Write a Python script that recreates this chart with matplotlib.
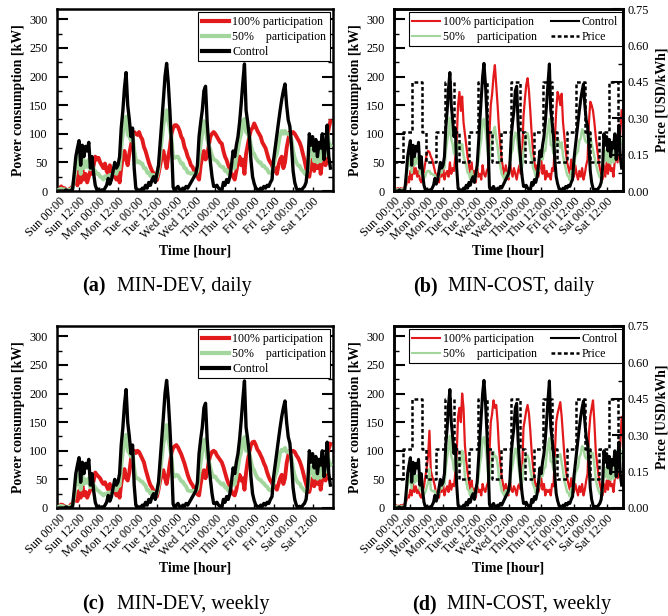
import numpy as np
import matplotlib
matplotlib.use("Agg")
import matplotlib.pyplot as plt
from matplotlib.lines import Line2D
from matplotlib.ticker import MultipleLocator

plt.rcParams['font.family'] = ['Liberation Serif', 'DejaVu Serif']

# ---------------- data (hourly, one week starting Sunday 00:00) ----------------
hours = np.arange(168)
tick_hours = [0, 12, 24, 36, 48, 60, 72, 84, 96, 108, 120, 132, 144, 156]
tick_labels = ["Sun 00:00", "Sun 12:00", "Mon 00:00", "Mon 12:00", "Tue 00:00",
               "Tue 12:00", "Wed 00:00", "Wed 12:00", "Thu 00:00", "Thu 12:00",
               "Fri 00:00", "Fri 12:00", "Sat 00:00", "Sat 12:00"]

control_kw = [
    0, 0, 0, 0, 2, 0, 0, 1, 3, 30, 60, 75, 88, 45, 80, 60, 78, 70, 85, 40, 60, 30, 10, 2,
    3, 0, 2, 0, 5, 10, 22, 12, 20, 35, 50, 40, 45, 60, 110, 140, 180, 207, 150, 125, 95, 110, 40, 5,
    0, 2, 0, 5, 3, 10, 5, 15, 10, 20, 25, 15, 30, 45, 83, 120, 159, 200, 223, 190, 141, 83, 7, 0,
    5, 8, 3, 0, 5, 3, 8, 5, 10, 15, 20, 25, 30, 45, 95, 120, 141, 175, 183, 120, 80, 50, 25, 8,
    8, 10, 5, 3, 0, 15, 10, 20, 15, 25, 45, 70, 60, 80, 95, 120, 153, 190, 222, 141, 120, 95, 54, 25,
    13, 5, 3, 0, 5, 3, 8, 5, 10, 8, 15, 20, 55, 77, 100, 120, 141, 160, 175, 187, 150, 124, 113, 80,
    35, 15, 5, 0, 3, 0, 5, 8, 15, 40, 100, 80, 95, 70, 90, 60, 85, 75, 100, 55, 80, 115, 60, 40]

dev_daily_100 = [
    5, 8, 3, 5, 2, 0, 3, 5, 8, 15, 25, 10, 35, 15, 40, 20, 30, 15, 25, 35, 30, 45, 60, 55,
    58, 50, 45, 40, 48, 35, 30, 45, 35, 25, 30, 20, 35, 15, 40, 60, 70, 55, 45, 65, 80, 95, 103, 100,
    98, 103, 95, 90, 77, 70, 60, 50, 42, 35, 31, 25, 19, 30, 45, 60, 70, 55, 40, 60, 75, 100, 110, 115,
    115, 112, 105, 95, 90, 77, 70, 60, 54, 45, 42, 35, 30, 25, 20, 45, 60, 70, 55, 60, 80, 95, 100, 103,
    100, 95, 90, 85, 83, 70, 60, 54, 45, 37, 31, 25, 20, 35, 50, 60, 45, 55, 30, 65, 80, 95, 107, 110,
    118, 112, 105, 100, 95, 85, 80, 75, 65, 55, 50, 45, 35, 40, 30, 45, 55, 60, 40, 50, 75, 90, 103, 100,
    103, 100, 95, 90, 85, 77, 65, 54, 40, 31, 25, 45, 55, 35, 70, 40, 60, 30, 55, 75, 45, 95, 110, 122]

dev_daily_50 = [
    3, 4, 2, 3, 2, 0, 2, 3, 5, 22, 42, 40, 60, 30, 58, 40, 52, 42, 55, 38, 45, 38, 35, 30,
    30, 25, 24, 20, 26, 22, 26, 28, 28, 30, 40, 30, 40, 38, 75, 100, 125, 130, 98, 95, 88, 100, 72, 55,
    50, 52, 48, 48, 40, 40, 32, 32, 26, 28, 28, 20, 25, 38, 64, 90, 115, 128, 141, 125, 108, 92, 58, 58,
    60, 60, 54, 48, 48, 40, 39, 32, 32, 30, 31, 30, 30, 35, 58, 82, 100, 122, 120, 90, 80, 72, 62, 55,
    54, 52, 48, 44, 42, 42, 35, 37, 30, 31, 38, 48, 40, 58, 72, 90, 100, 122, 126, 103, 100, 95, 80, 68,
    65, 58, 54, 50, 50, 44, 44, 40, 38, 32, 32, 32, 45, 58, 65, 82, 98, 105, 100, 105, 100, 100, 100, 90,
    70, 58, 50, 45, 44, 38, 35, 31, 28, 36, 62, 62, 75, 52, 80, 50, 72, 52, 78, 65, 62, 105, 85, 80]

cost_daily_100 = [
    5, 5, 3, 5, 3, 5, 3, 5, 8, 10, 25, 15, 35, 20, 45, 30, 40, 25, 35, 20, 15, 25, 35, 50,
    65, 70, 68, 60, 55, 45, 35, 20, 30, 15, 40, 25, 45, 20, 30, 35, 25, 50, 30, 40, 35, 60, 90, 150,
    173, 140, 165, 120, 100, 80, 60, 45, 30, 50, 20, 35, 15, 40, 25, 30, 20, 45, 30, 25, 35, 40, 100, 150,
    170, 200, 220, 185, 150, 110, 80, 55, 40, 25, 45, 30, 20, 50, 35, 25, 40, 30, 20, 35, 45, 30, 60, 130,
    160, 185, 197, 175, 140, 100, 70, 50, 35, 45, 25, 40, 55, 30, 45, 20, 35, 25, 30, 20, 40, 35, 90, 140,
    173, 165, 150, 170, 120, 95, 70, 50, 40, 30, 55, 35, 25, 45, 30, 20, 35, 25, 40, 20, 30, 45, 55, 120,
    156, 150, 140, 120, 95, 75, 55, 40, 30, 20, 45, 25, 50, 30, 60, 35, 40, 25, 55, 70, 50, 80, 100, 141]

cost_daily_50 = [
    3, 3, 2, 3, 3, 3, 2, 3, 5, 20, 42, 45, 60, 32, 62, 45, 58, 48, 60, 30, 38, 28, 22, 26,
    34, 35, 35, 30, 30, 28, 28, 16, 25, 25, 45, 32, 45, 40, 70, 88, 102, 128, 90, 82, 65, 85, 65, 78,
    86, 71, 82, 62, 52, 45, 32, 30, 20, 35, 22, 25, 22, 42, 54, 75, 90, 122, 126, 108, 88, 62, 54, 75,
    88, 104, 112, 92, 78, 56, 44, 30, 25, 20, 32, 28, 25, 48, 65, 72, 90, 102, 100, 78, 62, 40, 42, 69,
    84, 98, 101, 89, 70, 58, 40, 35, 25, 35, 35, 55, 58, 55, 70, 70, 94, 108, 126, 80, 80, 65, 72, 82,
    93, 85, 76, 85, 62, 49, 39, 28, 25, 19, 35, 28, 40, 61, 65, 70, 88, 92, 108, 104, 90, 85, 84, 100,
    95, 82, 72, 60, 49, 38, 30, 24, 22, 30, 72, 52, 72, 50, 75, 48, 62, 50, 78, 62, 65, 98, 80, 90]

dev_weekly_100 = [
    4, 6, 5, 3, 2, 0, 2, 6, 8, 12, 28, 12, 30, 18, 42, 22, 28, 18, 25, 32, 35, 48, 62, 58,
    55, 52, 46, 42, 45, 38, 32, 42, 30, 28, 32, 22, 30, 18, 42, 58, 68, 52, 48, 62, 85, 98, 100, 96,
    100, 98, 92, 86, 80, 68, 58, 48, 40, 36, 30, 22, 20, 32, 48, 58, 66, 52, 42, 58, 78, 96, 105, 108,
    110, 106, 100, 94, 86, 78, 68, 58, 50, 44, 40, 34, 28, 24, 22, 42, 58, 66, 52, 62, 82, 92, 98, 100,
    98, 92, 88, 84, 80, 72, 62, 52, 44, 38, 30, 24, 22, 32, 48, 58, 48, 52, 32, 62, 82, 98, 110, 115,
    116, 110, 102, 98, 92, 86, 78, 72, 62, 54, 48, 44, 36, 38, 32, 42, 52, 58, 42, 52, 78, 92, 100, 98,
    100, 98, 92, 88, 82, 74, 64, 52, 42, 32, 28, 42, 52, 38, 68, 42, 58, 32, 52, 72, 48, 92, 104, 112]

dev_weekly_50 = [
    3, 4, 3, 2, 2, 0, 2, 3, 5, 20, 40, 42, 58, 32, 56, 42, 50, 44, 52, 36, 46, 40, 36, 32,
    30, 27, 25, 22, 25, 24, 27, 27, 26, 31, 40, 31, 38, 39, 72, 98, 122, 128, 100, 96, 90, 98, 70, 52,
    52, 50, 47, 46, 42, 39, 31, 31, 25, 28, 27, 20, 26, 38, 62, 88, 112, 126, 145, 122, 105, 90, 56, 55,
    58, 57, 52, 47, 46, 41, 38, 31, 30, 29, 30, 30, 29, 34, 56, 80, 98, 118, 120, 88, 82, 70, 60, 54,
    55, 50, 47, 44, 41, 43, 36, 36, 30, 32, 37, 46, 41, 56, 70, 88, 98, 118, 124, 100, 100, 96, 82, 70,
    66, 58, 53, 50, 49, 45, 43, 39, 37, 32, 31, 32, 44, 56, 64, 80, 96, 102, 100, 105, 98, 98, 98, 88,
    68, 57, 49, 44, 43, 37, 34, 30, 28, 35, 60, 60, 73, 53, 78, 51, 70, 53, 76, 64, 63, 100, 82, 76]

cost_weekly_100 = [
    4, 6, 3, 4, 3, 5, 4, 6, 7, 12, 22, 18, 32, 22, 42, 28, 38, 26, 32, 22, 18, 28, 38, 55,
    70, 90, 135, 65, 55, 48, 38, 22, 28, 18, 38, 28, 42, 22, 32, 38, 28, 48, 32, 42, 38, 62, 95, 160,
    175, 150, 200, 175, 110, 82, 62, 45, 32, 48, 22, 34, 18, 38, 28, 32, 22, 42, 32, 28, 38, 45, 95, 150,
    165, 188, 175, 180, 150, 105, 78, 55, 42, 28, 42, 32, 22, 48, 32, 28, 38, 32, 22, 38, 42, 32, 65, 140,
    155, 170, 180, 165, 135, 98, 72, 52, 38, 42, 28, 38, 52, 32, 42, 22, 32, 28, 32, 22, 42, 38, 95, 150,
    165, 175, 185, 160, 125, 92, 68, 52, 42, 32, 52, 38, 28, 42, 32, 22, 38, 28, 42, 22, 32, 48, 60, 130,
    160, 175, 188, 150, 100, 78, 58, 42, 32, 22, 42, 28, 48, 32, 58, 38, 42, 28, 52, 68, 52, 85, 110, 159]

cost_weekly_50 = [
    2, 3, 3, 2, 3, 3, 2, 3, 5, 21, 40, 46, 58, 34, 60, 44, 57, 47, 58, 31, 39, 29, 24, 28,
    36, 45, 68, 32, 30, 29, 30, 17, 24, 26, 44, 34, 44, 41, 71, 89, 104, 126, 91, 84, 66, 86, 68, 82,
    88, 76, 100, 90, 56, 46, 33, 30, 21, 34, 23, 24, 24, 41, 55, 76, 90, 120, 124, 110, 90, 64, 51, 75,
    85, 98, 89, 90, 77, 54, 43, 30, 26, 21, 31, 28, 26, 46, 63, 74, 89, 104, 102, 80, 61, 41, 45, 74,
    81, 90, 92, 84, 67, 56, 41, 36, 26, 33, 36, 54, 56, 56, 68, 71, 92, 109, 122, 81, 81, 66, 74, 87,
    89, 90, 94, 80, 65, 47, 38, 28, 26, 20, 34, 29, 41, 60, 66, 71, 89, 94, 108, 104, 91, 86, 86, 105,
    97, 95, 96, 75, 51, 39, 31, 25, 23, 31, 71, 54, 71, 51, 74, 49, 63, 51, 76, 61, 66, 100, 85, 99]

# time-of-use price: hour of day where a level starts, and the level (USD/kWh)
price_change_hours = [0, 6.75, 13.5, 20.25, 23.75]
price_levels = [0.12, 0.245, 0.45, 0.245, 0.12]

captions = [("(a)", "MIN-DEV, daily"), ("(b)", "MIN-COST, daily"),
            ("(c)", "MIN-DEV, weekly"), ("(d)", "MIN-COST, weekly")]

# ---------------- styling ----------------
RED = '#e31a1c'
GREEN = '#a3d69d'
W, H = 668, 616
PRICE_DASH = (1.5, 1.0)

fig = plt.figure(figsize=(W / 100, H / 100), dpi=100)


def px_axes(left, top, right, bottom):
    return fig.add_axes([left / W, 1 - bottom / H, (right - left) / W, (bottom - top) / H])


def style_left(ax, mirror):
    ax.set_ylim(0, 318)
    ax.yaxis.set_major_locator(MultipleLocator(50))
    ax.yaxis.set_minor_locator(MultipleLocator(25))
    ax.set_xticks(tick_hours)
    ax.set_xticklabels(tick_labels, rotation=45, ha='right', rotation_mode='anchor')
    ax.tick_params(axis='y', which='major', direction='in', length=8, width=1.5,
                   labelsize=8.8, pad=7, right=mirror)
    ax.tick_params(axis='y', which='minor', direction='in', length=3.5, width=1.0, right=mirror)
    ax.tick_params(axis='x', which='major', direction='in', length=3, width=1.0,
                   labelsize=8.8, pad=3)
    for s in ax.spines.values():
        s.set_linewidth(1.8)
    ax.set_ylabel("Power consumption [kW]", fontsize=10, fontweight='bold', labelpad=3)
    ax.set_xlabel("Time [hour]", fontsize=10, fontweight='bold', labelpad=2)


def dev_panel(ax, red, green):
    ax.plot(hours, red, color=RED, lw=2.8, zorder=2)
    ax.plot(hours, green, color=GREEN, lw=2.8, zorder=3)
    ax.plot(hours, control_kw, color='black', lw=2.4, zorder=4)
    ax.set_xlim(-1.6, 168.6)
    style_left(ax, True)
    handles = [Line2D([], [], color=RED, lw=3), Line2D([], [], color=GREEN, lw=3),
               Line2D([], [], color='black', lw=3)]
    leg = ax.legend(handles, ["100% participation", "50%    participation", "Control"],
                    loc='upper right', bbox_to_anchor=(0.989, 0.982), borderaxespad=0,
                    fontsize=8.6, handlelength=2.3, handletextpad=0.25, labelspacing=0.25,
                    borderpad=0.3, fancybox=False, framealpha=1, edgecolor='black')
    leg.get_frame().set_linewidth(0.8)


def cost_panel(ax, red, green):
    ax.plot(hours, red, color=RED, lw=1.6, zorder=2)
    ax.plot(hours, green, color=GREEN, lw=1.8, zorder=3)
    ax.plot(hours, control_kw, color='black', lw=2.2, zorder=4)
    ax.set_xlim(0, 168)
    style_left(ax, False)
    ax2 = ax.twinx()
    px, py = [], []
    for d in range(7):
        for t, lvl in zip(price_change_hours, price_levels):
            px.append(d * 24 + t)
            py.append(lvl)
    px.append(168)
    py.append(price_levels[-1])
    ax2.step(px, py, where='post', color='black', lw=1.8, dashes=PRICE_DASH, zorder=5)
    ax2.set_ylim(0, 0.75)
    ax2.yaxis.set_major_locator(MultipleLocator(0.15))
    ax2.yaxis.set_minor_locator(MultipleLocator(0.075))
    ax2.yaxis.set_major_formatter(matplotlib.ticker.FormatStrFormatter('%.2f'))
    ax2.tick_params(axis='y', which='major', direction='in', length=8, width=1.5,
                    labelsize=8.8, pad=3)
    ax2.tick_params(axis='y', which='minor', direction='in', length=3.5, width=1.0)
    for s in ax2.spines.values():
        s.set_linewidth(1.8)
    ax2.set_ylabel("Price [USD/kWh]", fontsize=10, fontweight='bold', labelpad=5)
    handles = [Line2D([], [], color=RED, lw=1.5), Line2D([], [], color=GREEN, lw=1.5),
               Line2D([], [], color='black', lw=1.5),
               Line2D([], [], color='black', lw=1.8, dashes=PRICE_DASH)]
    leg = ax2.legend(handles, ["100% participation", "50%    participation", "Control", "Price"],
                     ncol=2, loc='upper left', bbox_to_anchor=(0.065, 0.982), borderaxespad=0,
                     fontsize=8.6, handlelength=2.3, handletextpad=0.25, labelspacing=0.25,
                     columnspacing=1.2, borderpad=0.3, fancybox=False, framealpha=1,
                     edgecolor='black')
    leg.get_frame().set_linewidth(0.8)


ax_a = px_axes(57, 9, 333, 191)
ax_b = px_axes(394, 9, 623, 191)
ax_c = px_axes(57, 326, 333, 508)
ax_d = px_axes(394, 326, 623, 508)

dev_panel(ax_a, dev_daily_100, dev_daily_50)
cost_panel(ax_b, cost_daily_100, cost_daily_50)
dev_panel(ax_c, dev_weekly_100, dev_weekly_50)
cost_panel(ax_d, cost_weekly_100, cost_weekly_50)

cap_pos = [(82, 291), (413, 291), (82, 609), (412, 609)]
for (lab, txt), (x, y) in zip(captions, cap_pos):
    fig.text(x / W, 1 - y / H, lab, fontsize=14.5, fontweight='bold', ha='left', va='baseline')
    fig.text((x + 35) / W, 1 - y / H, txt, fontsize=14.5, ha='left', va='baseline')

fig.savefig("out.png", dpi=100)
